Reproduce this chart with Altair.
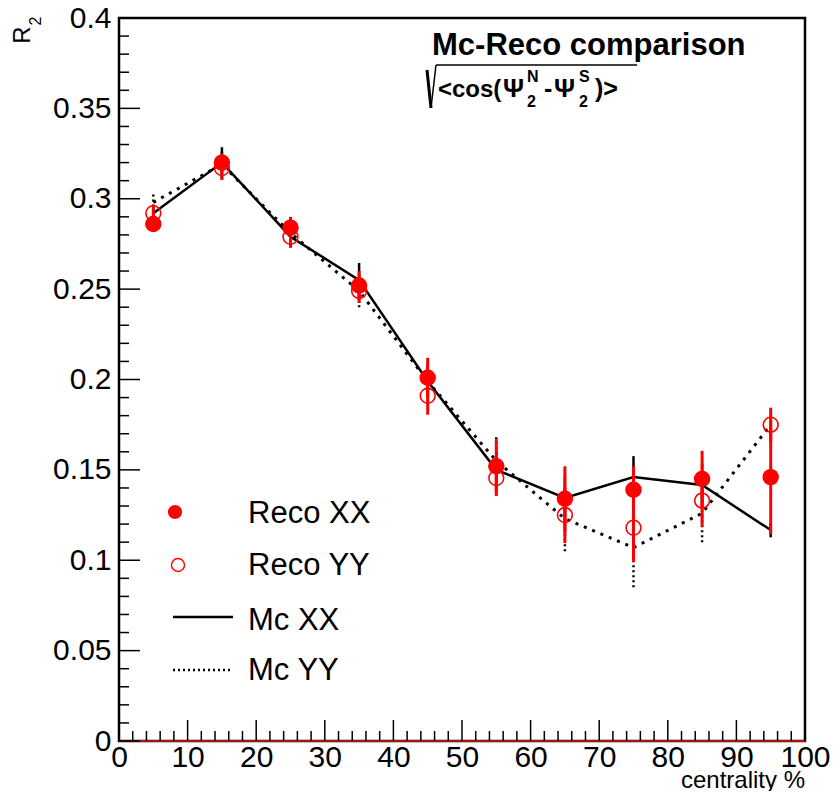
import altair as alt
import pandas as pd

# ---- data ----
centrality = [5, 15, 25, 35, 45, 55, 65, 75, 85, 95]
reco_xx = [0.286, 0.320, 0.284, 0.252, 0.201, 0.152, 0.134, 0.139, 0.145, 0.146]
reco_xx_err = [0.004, 0.005, 0.006, 0.008, 0.011, 0.015, 0.018, 0.013, 0.0155, 0.0315]
reco_yy = [0.292, 0.317, 0.279, 0.249, 0.191, 0.1455, 0.125, 0.118, 0.133, 0.175]
reco_yy_err = [0.004, 0.0066, 0.006, 0.0067, 0.0105, 0.010, 0.0155, 0.019, 0.0144, 0.0094]
mc_xx = [0.292, 0.320, 0.279, 0.255, 0.199, 0.150, 0.1345, 0.146, 0.1416, 0.1167]
mc_xx_err = [0.004, 0.0085, 0.006, 0.0095, 0.009, 0.010, 0.012, 0.0116, 0.012, 0.004]
mc_yy = [0.298, 0.319, 0.281, 0.249, 0.199, 0.155, 0.123, 0.107, 0.126, 0.175]
mc_yy_err = [0.005, 0.008, 0.007, 0.009, 0.011, 0.013, 0.018, 0.022, 0.016, 0.008]

x_major = [0, 10, 20, 30, 40, 50, 60, 70, 80, 90, 100]
x_minor = [v for v in range(0, 101, 2) if v % 10 != 0]
y_major = [0, 0.05, 0.1, 0.15, 0.2, 0.25, 0.3, 0.35, 0.4]
y_minor = [round(v * 0.01, 2) for v in range(0, 41) if v % 5 != 0]

W, H = 686, 723
FONT = "Liberation Sans"

df = pd.DataFrame({
    "c": centrality,
    "rxx": reco_xx, "rxx_lo": [v - e for v, e in zip(reco_xx, reco_xx_err)],
    "rxx_hi": [v + e for v, e in zip(reco_xx, reco_xx_err)],
    "ryy": reco_yy, "ryy_lo": [v - e for v, e in zip(reco_yy, reco_yy_err)],
    "ryy_hi": [v + e for v, e in zip(reco_yy, reco_yy_err)],
    "mxx": mc_xx, "mxx_lo": [v - e for v, e in zip(mc_xx, mc_xx_err)],
    "mxx_hi": [v + e for v, e in zip(mc_xx, mc_xx_err)],
    "myy": mc_yy, "myy_lo": [v - e for v, e in zip(mc_yy, mc_yy_err)],
    "myy_hi": [v + e for v, e in zip(mc_yy, mc_yy_err)],
})

xs = alt.Scale(domain=[0, 100], nice=False, zero=False)
ys = alt.Scale(domain=[0, 0.4], nice=False, zero=False)

xaxis = alt.Axis(values=x_major, labelFontSize=30, labelFont=FONT, ticks=False,
                 domain=False, grid=False, labelPadding=1, title=None,
                 labelColor="black", labelFlush=False)
yaxis = alt.Axis(values=y_major, labelFontSize=30, labelFont=FONT, ticks=False,
                 domain=False, grid=False, labelPadding=8, title=None,
                 format=".2~f", labelColor="black", labelFlush=False)

base = alt.Chart(df)
X = alt.X("c:Q", scale=xs, axis=xaxis)

# Mc lines
mc_xx_line = base.mark_line(color="black", strokeWidth=2.5).encode(
    x=X, y=alt.Y("mxx:Q", scale=ys, axis=yaxis))
mc_yy_line = base.mark_line(color="black", strokeWidth=3, strokeDash=[3, 6]).encode(
    x=alt.X("c:Q", scale=xs), y=alt.Y("myy:Q", scale=ys))
mc_xx_err_r = base.mark_rule(color="black", strokeWidth=2.5).encode(
    x=alt.X("c:Q", scale=xs), y=alt.Y("mxx_lo:Q", scale=ys), y2="mxx_hi:Q")
mc_yy_err_r = base.mark_rule(color="black", strokeWidth=2.5, strokeDash=[2, 3]).encode(
    x=alt.X("c:Q", scale=xs), y=alt.Y("myy_lo:Q", scale=ys), y2="myy_hi:Q")

# Reco points
rxx_err = base.mark_rule(color="#ff0000", strokeWidth=3).encode(
    x=alt.X("c:Q", scale=xs), y=alt.Y("rxx_lo:Q", scale=ys), y2="rxx_hi:Q")
ryy_err = base.mark_rule(color="#ff0000", strokeWidth=3).encode(
    x=alt.X("c:Q", scale=xs), y=alt.Y("ryy_lo:Q", scale=ys), y2="ryy_hi:Q")
rxx_pts = base.mark_point(shape="circle", filled=True, color="#ff0000", size=270,
                          opacity=1).encode(
    x=alt.X("c:Q", scale=xs), y=alt.Y("rxx:Q", scale=ys))
ryy_pts = base.mark_point(shape="circle", filled=False, color="#ff0000", size=220,
                          strokeWidth=1.6, opacity=1).encode(
    x=alt.X("c:Q", scale=xs), y=alt.Y("ryy:Q", scale=ys))

# baseline red line at y = 0
zero_df = pd.DataFrame({"x0": [0], "x1": [100], "y0": [0]})
zero_line = alt.Chart(zero_df).mark_rule(color="#b01010", strokeWidth=2).encode(
    x=alt.X("x0:Q", scale=xs), x2="x1:Q", y=alt.Y("y0:Q", scale=ys))

# inward ticks
def xticks(vals, length):
    return alt.Chart(pd.DataFrame({"v": vals})).mark_rule(color="black", strokeWidth=1.5).encode(
        x=alt.X("v:Q", scale=xs), y=alt.value(H), y2=alt.value(H - length))

def yticks(vals, length):
    return alt.Chart(pd.DataFrame({"v": vals})).mark_rule(color="black", strokeWidth=1.5).encode(
        y=alt.Y("v:Q", scale=ys), x=alt.value(0), x2=alt.value(length))

ticks = [xticks(x_major, 21), xticks(x_minor, 10), yticks(y_major, 21), yticks(y_minor, 10)]

one = alt.Chart(pd.DataFrame({"d": [0]}))

def txt(s, x, y, size, bold=False, align="left", baseline="alphabetic", angle=0):
    kw = dict(text=s, fontSize=size, font=FONT, align=align, baseline=baseline,
              color="black", fontWeight="bold" if bold else "normal")
    if angle:
        kw["angle"] = angle
    return one.mark_text(**kw).encode(x=alt.value(x), y=alt.value(y))

def seg(x1, y1, x2, y2, w):
    return one.mark_rule(color="black", strokeWidth=w).encode(
        x=alt.value(x1), y=alt.value(y1), x2=alt.value(x2), y2=alt.value(y2))

# legend
leg = [
    one.mark_point(shape="circle", filled=True, color="#ff0000", size=200, opacity=1).encode(
        x=alt.value(56), y=alt.value(494)),
    one.mark_point(shape="circle", filled=False, color="#ff0000", size=170, strokeWidth=1.4,
                   opacity=1).encode(x=alt.value(59), y=alt.value(547)),
    seg(54, 599, 114, 599, 2.5),
    one.mark_rule(color="black", strokeWidth=2.5, strokeDash=[2, 3]).encode(
        x=alt.value(54), x2=alt.value(114), y=alt.value(652)),
    txt("Reco XX", 129, 505, 31),
    txt("Reco YY", 129, 557, 31),
    txt("Mc XX", 129, 612, 31),
    txt("Mc YY", 129, 662, 31),
]

# title block
title = [
    txt("Mc-Reco comparison", 313, 37, 31, bold=True),
    seg(308, 52, 312, 90, 3),
    seg(312, 90, 317, 47, 1.5),
    seg(317, 47, 518, 47, 1.5),
    txt("<cos(", 319, 79, 24, bold=True),
    txt("Ψ", 384, 79, 26, bold=True),
    txt("N", 408, 64, 16, bold=True),
    txt("2", 408, 89, 16, bold=True),
    txt("-", 425, 79, 25, bold=True),
    txt("Ψ", 435, 79, 26, bold=True),
    txt("S", 460, 64, 16, bold=True),
    txt("2", 460, 89, 16, bold=True),
    txt(")>", 476, 79, 25, bold=True),
]

# axis titles
axis_titles = [
    txt("centrality %", W, 770, 24, align="right"),
    txt("R", -89, 17, 24, angle=270, align="center"),
    txt("2", -78, 3, 16, angle=270, align="center"),
]

chart = alt.layer(
    zero_line, mc_xx_line, mc_yy_line, mc_xx_err_r, mc_yy_err_r,
    rxx_err, ryy_err, rxx_pts, ryy_pts, *ticks, *leg, *title, *axis_titles
).properties(
    width=W, height=H,
    autosize=alt.AutoSizeParams(type="none"),
    padding={"left": 111, "top": 10, "right": 27, "bottom": 50},
    background="white",
).configure_view(stroke="black", strokeWidth=2.5)

chart.save("out.html", embed_options={"renderer": "svg", "actions": False})
